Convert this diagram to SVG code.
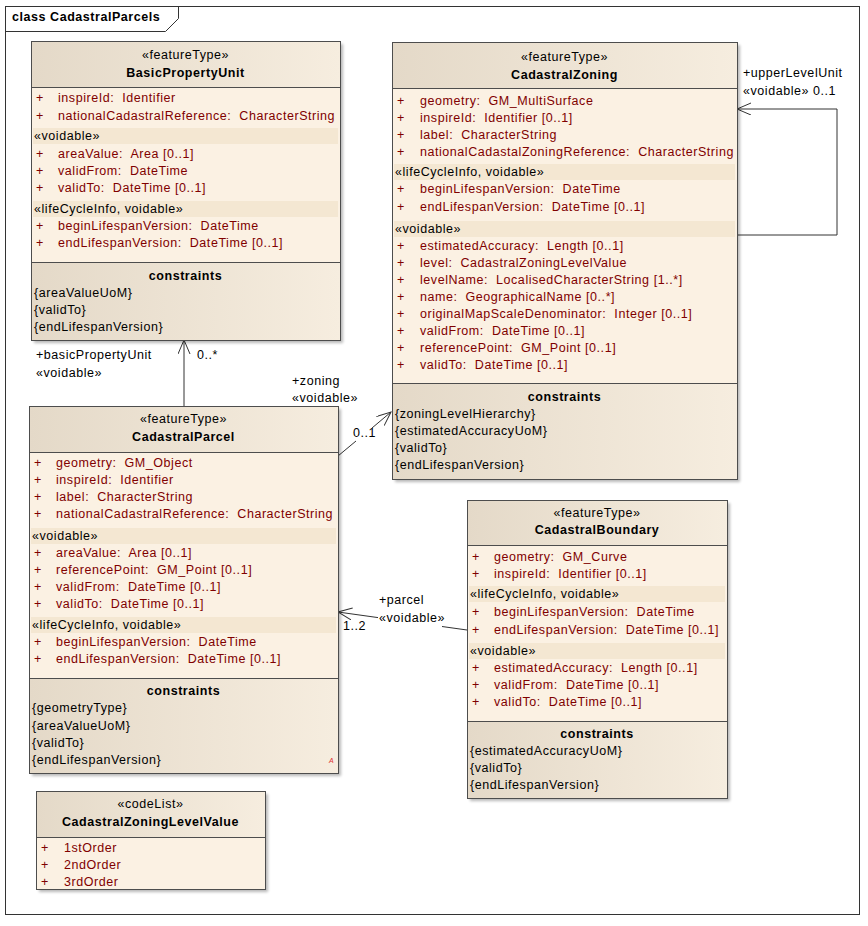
<svg xmlns="http://www.w3.org/2000/svg" width="868" height="926" viewBox="0 0 868 926">
<defs>
<linearGradient id="g" x1="0" y1="0" x2="1" y2="0"><stop offset="0" stop-color="#E4D9C8"/><stop offset="1" stop-color="#F6EDDF"/></linearGradient>
<filter id="blur" x="-5%" y="-5%" width="110%" height="110%"><feGaussianBlur stdDeviation="1.5"/></filter>
<marker id="arr" markerUnits="userSpaceOnUse" markerWidth="16" markerHeight="14" refX="14" refY="6" orient="auto"><path d="M0,0 L14,6 L0,12" fill="none" stroke="#333" stroke-width="1"/></marker>
<style>
.t{font-family:"Liberation Sans",Arial,sans-serif;font-size:12.5px;letter-spacing:0.55px;fill:#000;white-space:pre}
.a{fill:#800000}
.b{font-weight:bold}
.m{text-anchor:middle}
.box{fill:none;stroke:#4d4d4d;stroke-width:1}
.sep{stroke:#4d4d4d;stroke-width:1}
.band{fill:#F4E7D2}
.body{fill:#FBF1E3}
.hdr{fill:url(#g)}
.sh{fill:#000;opacity:.28;filter:url(#blur)}
.conn{fill:none;stroke:#333;stroke-width:1}
.frame{fill:none;stroke:#333;stroke-width:1}
</style>
</defs>
<rect x="0" y="0" width="868" height="926" fill="#fff"/>
<g id="frame">
<rect class="frame" x="5.5" y="6.5" width="854" height="908"/>
<path class="frame" d="M5.5,31.5 L165.5,31.5 L178.5,18.5 L178.5,6.5"/>
<text class="t b" x="12" y="21">class CadastralParcels</text>
</g>

<g id="connectors">
<path class="conn" d="M184,406 L184,340" marker-end="url(#arr)"/>
<text class="t" x="36" y="359">+basicPropertyUnit</text>
<text class="t" x="36" y="377">«voidable»</text>
<text class="t" x="197" y="359">0..*</text>
<path class="conn" d="M338,456 L356,441 M372,428 L391,412" marker-end="url(#arr)"/>
<text class="t" x="292" y="385">+zoning</text>
<text class="t" x="292" y="402">«voidable»</text>
<text class="t" x="353" y="437">0..1</text>
<path class="conn" d="M737,235 L837,235 L837,109 L737,109" marker-end="url(#arr)"/>
<text class="t" x="743" y="77">+upperLevelUnit</text>
<text class="t" x="743" y="95">«voidable» 0..1</text>
<path class="conn" d="M467,630 L442,626.5 M378,617.6 L338,612" marker-end="url(#arr)"/>
<text class="t" x="379" y="604">+parcel</text>
<text class="t" x="379" y="622">«voidable»</text>
<text class="t" x="343" y="630">1..2</text>
</g>

<g id="BasicPropertyUnit">
<rect class="sh" x="34" y="44" width="309" height="299"/>
<rect class="body" x="31" y="41" width="309" height="299"/>
<rect class="hdr" x="31" y="41" width="309" height="46"/>
<rect class="hdr" x="31" y="262" width="309" height="78"/>
<rect class="band" x="33" y="128" width="305" height="16"/>
<rect class="band" x="33" y="201" width="305" height="16"/>
<rect class="box" x="31.5" y="41.5" width="309" height="299"/>
<line class="sep" x1="31" y1="87.5" x2="340" y2="87.5"/>
<line class="sep" x1="31" y1="262.5" x2="340" y2="262.5"/>
<text class="t m" x="185.5" y="59">«featureType»</text>
<text class="t b m" x="185.5" y="77">BasicPropertyUnit</text>
<text class="t a" y="102"><tspan x="36">+</tspan><tspan x="58">inspireId:&#160; Identifier</tspan></text>
<text class="t a" y="120"><tspan x="36">+</tspan><tspan x="58">nationalCadastralReference:&#160; CharacterString</tspan></text>
<text class="t" x="34" y="140">«voidable»</text>
<text class="t a" y="158"><tspan x="36">+</tspan><tspan x="58">areaValue:&#160; Area [0..1]</tspan></text>
<text class="t a" y="175"><tspan x="36">+</tspan><tspan x="58">validFrom:&#160; DateTime</tspan></text>
<text class="t a" y="192"><tspan x="36">+</tspan><tspan x="58">validTo:&#160; DateTime [0..1]</tspan></text>
<text class="t" x="34" y="213">«lifeCycleInfo, voidable»</text>
<text class="t a" y="230"><tspan x="36">+</tspan><tspan x="58">beginLifespanVersion:&#160; DateTime</tspan></text>
<text class="t a" y="247"><tspan x="36">+</tspan><tspan x="58">endLifespanVersion:&#160; DateTime [0..1]</tspan></text>
<text class="t b m" x="185.5" y="280">constraints</text>
<text class="t" x="34" y="297">{areaValueUoM}</text>
<text class="t" x="34" y="314">{validTo}</text>
<text class="t" x="34" y="331">{endLifespanVersion}</text>
</g>

<g id="CadastralZoning">
<rect class="sh" x="395" y="45" width="345" height="437"/>
<rect class="body" x="392" y="42" width="345" height="437"/>
<rect class="hdr" x="392" y="42" width="345" height="46"/>
<rect class="hdr" x="392" y="383" width="345" height="96"/>
<rect class="band" x="394" y="164" width="341" height="16"/>
<rect class="band" x="394" y="221" width="341" height="16"/>
<rect class="box" x="392.5" y="42.5" width="345" height="437"/>
<line class="sep" x1="392" y1="88.5" x2="737" y2="88.5"/>
<line class="sep" x1="392" y1="383.5" x2="737" y2="383.5"/>
<text class="t m" x="564.5" y="61">«featureType»</text>
<text class="t b m" x="564.5" y="79">CadastralZoning</text>
<text class="t a" y="105"><tspan x="397">+</tspan><tspan x="420">geometry:&#160; GM_MultiSurface</tspan></text>
<text class="t a" y="122"><tspan x="397">+</tspan><tspan x="420">inspireId:&#160; Identifier [0..1]</tspan></text>
<text class="t a" y="139"><tspan x="397">+</tspan><tspan x="420">label:&#160; CharacterString</tspan></text>
<text class="t a" y="156"><tspan x="397">+</tspan><tspan x="420">nationalCadastalZoningReference:&#160; CharacterString</tspan></text>
<text class="t" x="395" y="176">«lifeCycleInfo, voidable»</text>
<text class="t a" y="193"><tspan x="397">+</tspan><tspan x="420">beginLifespanVersion:&#160; DateTime</tspan></text>
<text class="t a" y="211"><tspan x="397">+</tspan><tspan x="420">endLifespanVersion:&#160; DateTime [0..1]</tspan></text>
<text class="t" x="395" y="233">«voidable»</text>
<text class="t a" y="250"><tspan x="397">+</tspan><tspan x="420">estimatedAccuracy:&#160; Length [0..1]</tspan></text>
<text class="t a" y="267"><tspan x="397">+</tspan><tspan x="420">level:&#160; CadastralZoningLevelValue</tspan></text>
<text class="t a" y="284"><tspan x="397">+</tspan><tspan x="420">levelName:&#160; LocalisedCharacterString [1..*]</tspan></text>
<text class="t a" y="301"><tspan x="397">+</tspan><tspan x="420">name:&#160; GeographicalName [0..*]</tspan></text>
<text class="t a" y="318"><tspan x="397">+</tspan><tspan x="420">originalMapScaleDenominator:&#160; Integer [0..1]</tspan></text>
<text class="t a" y="335"><tspan x="397">+</tspan><tspan x="420">validFrom:&#160; DateTime [0..1]</tspan></text>
<text class="t a" y="352"><tspan x="397">+</tspan><tspan x="420">referencePoint:&#160; GM_Point [0..1]</tspan></text>
<text class="t a" y="369"><tspan x="397">+</tspan><tspan x="420">validTo:&#160; DateTime [0..1]</tspan></text>
<text class="t b m" x="564.5" y="401">constraints</text>
<text class="t" x="395" y="418">{zoningLevelHierarchy}</text>
<text class="t" x="395" y="435">{estimatedAccuracyUoM}</text>
<text class="t" x="395" y="452">{validTo}</text>
<text class="t" x="395" y="469">{endLifespanVersion}</text>
</g>

<g id="CadastralParcel">
<rect class="sh" x="32" y="409" width="309" height="367"/>
<rect class="body" x="29" y="406" width="309" height="367"/>
<rect class="hdr" x="29" y="406" width="309" height="46"/>
<rect class="hdr" x="29" y="678" width="309" height="95"/>
<rect class="band" x="31" y="528" width="305" height="16"/>
<rect class="band" x="31" y="617" width="305" height="16"/>
<rect class="box" x="29.5" y="406.5" width="309" height="367"/>
<line class="sep" x1="29" y1="452.5" x2="338" y2="452.5"/>
<line class="sep" x1="29" y1="678.5" x2="338" y2="678.5"/>
<text class="t m" x="183.5" y="423">«featureType»</text>
<text class="t b m" x="183.5" y="441">CadastralParcel</text>
<text class="t a" y="467"><tspan x="34">+</tspan><tspan x="56">geometry:&#160; GM_Object</tspan></text>
<text class="t a" y="484"><tspan x="34">+</tspan><tspan x="56">inspireId:&#160; Identifier</tspan></text>
<text class="t a" y="501"><tspan x="34">+</tspan><tspan x="56">label:&#160; CharacterString</tspan></text>
<text class="t a" y="518"><tspan x="34">+</tspan><tspan x="56">nationalCadastralReference:&#160; CharacterString</tspan></text>
<text class="t" x="32" y="540">«voidable»</text>
<text class="t a" y="557"><tspan x="34">+</tspan><tspan x="56">areaValue:&#160; Area [0..1]</tspan></text>
<text class="t a" y="574"><tspan x="34">+</tspan><tspan x="56">referencePoint:&#160; GM_Point [0..1]</tspan></text>
<text class="t a" y="591"><tspan x="34">+</tspan><tspan x="56">validFrom:&#160; DateTime [0..1]</tspan></text>
<text class="t a" y="608"><tspan x="34">+</tspan><tspan x="56">validTo:&#160; DateTime [0..1]</tspan></text>
<text class="t" x="32" y="629">«lifeCycleInfo, voidable»</text>
<text class="t a" y="646"><tspan x="34">+</tspan><tspan x="56">beginLifespanVersion:&#160; DateTime</tspan></text>
<text class="t a" y="663"><tspan x="34">+</tspan><tspan x="56">endLifespanVersion:&#160; DateTime [0..1]</tspan></text>
<text class="t b m" x="183.5" y="695">constraints</text>
<text class="t" x="32" y="712">{geometryType}</text>
<text class="t" x="32" y="730">{areaValueUoM}</text>
<text class="t" x="32" y="747">{validTo}</text>
<text class="t" x="32" y="764">{endLifespanVersion}</text>
<text x="329" y="763" font-family="Liberation Sans, Arial, sans-serif" font-size="7" font-style="italic" fill="#e03030">A</text>
</g>

<g id="CadastralBoundary">
<rect class="sh" x="470" y="503" width="260" height="298"/>
<rect class="body" x="467" y="500" width="260" height="298"/>
<rect class="hdr" x="467" y="500" width="260" height="45"/>
<rect class="hdr" x="467" y="721" width="260" height="77"/>
<rect class="band" x="469" y="586" width="256" height="16"/>
<rect class="band" x="469" y="643" width="256" height="16"/>
<rect class="box" x="467.5" y="500.5" width="260" height="298"/>
<line class="sep" x1="467" y1="545.5" x2="727" y2="545.5"/>
<line class="sep" x1="467" y1="721.5" x2="727" y2="721.5"/>
<text class="t m" x="597" y="517">«featureType»</text>
<text class="t b m" x="597" y="534">CadastralBoundary</text>
<text class="t a" y="561"><tspan x="472">+</tspan><tspan x="494">geometry:&#160; GM_Curve</tspan></text>
<text class="t a" y="578"><tspan x="472">+</tspan><tspan x="494">inspireId:&#160; Identifier [0..1]</tspan></text>
<text class="t" x="470" y="598">«lifeCycleInfo, voidable»</text>
<text class="t a" y="616"><tspan x="472">+</tspan><tspan x="494">beginLifespanVersion:&#160; DateTime</tspan></text>
<text class="t a" y="634"><tspan x="472">+</tspan><tspan x="494">endLifespanVersion:&#160; DateTime [0..1]</tspan></text>
<text class="t" x="470" y="655">«voidable»</text>
<text class="t a" y="672"><tspan x="472">+</tspan><tspan x="494">estimatedAccuracy:&#160; Length [0..1]</tspan></text>
<text class="t a" y="689"><tspan x="472">+</tspan><tspan x="494">validFrom:&#160; DateTime [0..1]</tspan></text>
<text class="t a" y="706"><tspan x="472">+</tspan><tspan x="494">validTo:&#160; DateTime [0..1]</tspan></text>
<text class="t b m" x="597" y="738">constraints</text>
<text class="t" x="470" y="755">{estimatedAccuracyUoM}</text>
<text class="t" x="470" y="772">{validTo}</text>
<text class="t" x="470" y="789">{endLifespanVersion}</text>
</g>

<g id="CadastralZoningLevelValue">
<rect class="sh" x="39" y="794" width="229" height="98"/>
<rect class="body" x="36" y="791" width="229" height="98"/>
<rect class="hdr" x="36" y="791" width="229" height="46"/>
<rect class="box" x="36.5" y="791.5" width="229" height="98"/>
<line class="sep" x1="36" y1="837.5" x2="265" y2="837.5"/>
<text class="t m" x="150.5" y="808">«codeList»</text>
<text class="t b m" x="150.5" y="826">CadastralZoningLevelValue</text>
<text class="t a" y="852"><tspan x="41">+</tspan><tspan x="64">1stOrder</tspan></text>
<text class="t a" y="869"><tspan x="41">+</tspan><tspan x="64">2ndOrder</tspan></text>
<text class="t a" y="886"><tspan x="41">+</tspan><tspan x="64">3rdOrder</tspan></text>
</g>
</svg>
